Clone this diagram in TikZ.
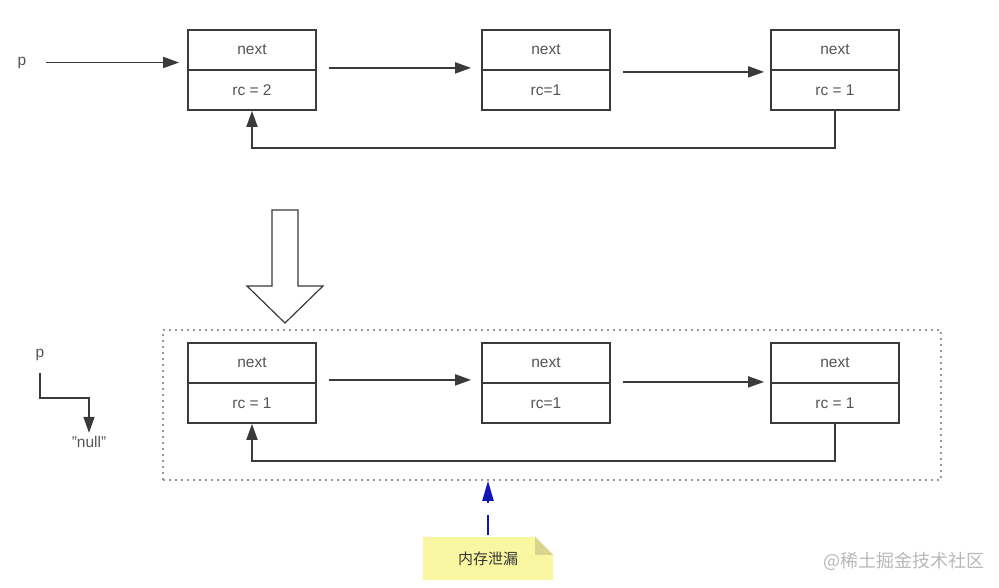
\documentclass[tikz,border=0pt]{standalone}
\usepackage{fontspec}
\setmainfont{Liberation Sans}
\newfontfamily\cjk{Noto Sans CJK SC}
\usetikzlibrary{arrows.meta,positioning,backgrounds}
\definecolor{linegray}{HTML}{3A3A3A}
\definecolor{textgray}{HTML}{555555}
\definecolor{noteyellow}{HTML}{FAF7A2}
\definecolor{notefold}{HTML}{D8D68C}
\definecolor{leakblue}{HTML}{1414B8}
\tikzset{
    cell/.style = {
        draw = linegray,
        line width = 1.8pt,
        minimum width = 128pt,
        minimum height = 40pt,
        font = \fontsize{15.5}{17}\selectfont,
        text = textgray,
        },
    label text/.style = {
        font = \fontsize{15.5}{17}\selectfont,
        text = textgray,
        },
    link/.style = {
        draw = linegray,
        line width = 1.8pt,
        -{Triangle[length=16pt,width=11pt]},
        },
    big arrow/.style = {
        draw = linegray,
        line width = 1.2pt,
        fill = white,
        },
    leak zone/.style = {
        draw = gray!80,
        line width = 1.6pt,
        dash pattern = on 1.6pt off 4.4pt,
        minimum width = 778pt,
        minimum height = 150pt,
        },
    leak link/.style = {
        draw = leakblue,
        line width = 2.2pt,
        dash pattern = on 20pt off 12pt,
        shorten <= 2pt,
        -{Triangle[length=20pt,width=11pt]},
        },
    note/.style = {
        minimum width = 130pt,
        minimum height = 43pt,
        font = \cjk\fontsize{15}{17}\selectfont,
        text = black!80,
        },
    watermark/.style = {
        font = \cjk\fontsize{18}{20}\selectfont,
        text = gray!55,
        },
}

\begin{document}
\begin{tikzpicture}[x=1pt,y=-1pt]
            \useasboundingbox (0,0) rectangle (999,588);
            \begin{scope}[on background layer]
                \fill[white] (0,0) rectangle (999,588);
            \end{scope}

            % before
            \node[label text] (p) at (22,62.5) {p};
            \node[cell] (A1) at (252,50) {next};
            \node[cell, below=-1.8pt of A1] (A1rc) {rc = 2};
            \node[cell] (A2) at (546,50) {next};
            \node[cell, below=-1.8pt of A2] (A2rc) {rc=1};
            \node[cell] (A3) at (835,50) {next};
            \node[cell, below=-1.8pt of A3] (A3rc) {rc = 1};

            \draw[link] ([xshift=16pt]p.east) -- ([xshift=-8pt]A1.west |- p.east);
            \draw[link] ([shift={(12pt,3pt)}]A1.south east) -- ([shift={(-10pt,3pt)}]A2.south west);
            \draw[link] ([shift={(12pt,-1pt)}]A2.south east) -- ([shift={(-6pt,-1pt)}]A3.south west);
            \draw[link] (A3rc.south) -- ++(0,37) -| (A1rc.south);

            \draw[big arrow] (272,210) -- (298,210) -- (298,286) -- (323,286)
                -- (285,323) -- (247,286) -- (272,286) -- cycle;

            % after
            \node[leak zone] (zone) at (552,405) {};
            \node[cell] (B1) at (252,363) {next};
            \node[cell, below=-1.8pt of B1] (B1rc) {rc = 1};
            \node[cell] (B2) at (546,363) {next};
            \node[cell, below=-1.8pt of B2] (B2rc) {rc=1};
            \node[cell] (B3) at (835,363) {next};
            \node[cell, below=-1.8pt of B3] (B3rc) {rc = 1};

            \draw[link] ([shift={(12pt,4pt)}]B1.south east) -- ([shift={(-10pt,4pt)}]B2.south west);
            \draw[link] ([shift={(12pt,2pt)}]B2.south east) -- ([shift={(-6pt,2pt)}]B3.south west);
            \draw[link] (B3rc.south) -- ++(0,37) -| (B1rc.south);

            \node[label text] (p2) at (40,355) {p};
            \node[label text] (null) at (89,442) {\symbol{34}null\symbol{34}};
            \coordinate (bend) at (89,398);
            \draw[link] ([yshift=-9pt]p2.south) |- (bend) -- (null.north);

            % note
            \node[note] (leak) at (488,558.5) {内存泄漏};
            \begin{scope}[on background layer]
                \fill[noteyellow] (leak.south west) -- (leak.north west)
                    -- ([xshift=-18pt]leak.north east) -- ([yshift=-18pt]leak.north east)
                    -- (leak.south east) -- cycle;
                \fill[notefold] ([xshift=-18pt]leak.north east) -- ([yshift=-18pt]leak.north east)
                    -- ([shift={(-18pt,-18pt)}]leak.north east) -- cycle;
            \end{scope}
            \draw[leak link] (leak.north) -- (leak.north |- zone.south);

            \node[watermark] (mark) at (904,561) {@稀土掘金技术社区};
        \end{tikzpicture}
\end{document}
